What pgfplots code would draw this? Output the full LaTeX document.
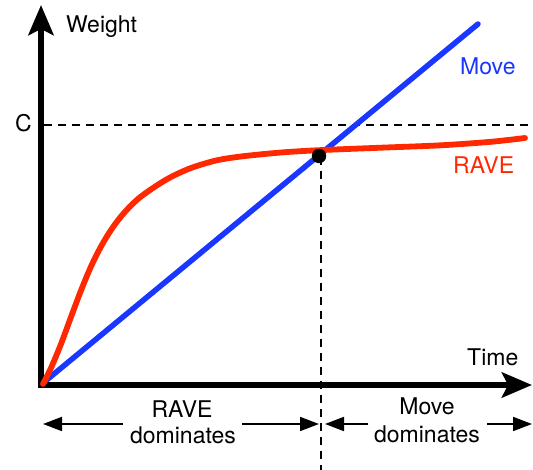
\documentclass[border=0pt]{standalone}
\usepackage{pgfplots}
\pgfplotsset{compat=1.18}
\usepackage{fontspec}
\setmainfont{TeX Gyre Heros}
\usetikzlibrary{arrows.meta}
\definecolor{moveblue}{RGB}{25,55,255}
\definecolor{ravered}{RGB}{255,40,0}
\begin{document}
\begin{tikzpicture}
\fontsize{23bp}{26bp}\selectfont
\begin{axis}[
  x=1bp, y=1bp,
  xmin=-3, xmax=491, ymin=-3, ymax=380,
  axis lines=middle,
  axis line style={line width=6.5bp, -{Stealth[length=30bp,width=25bp,inset=6bp]}},
  xtick=\empty, ytick=\empty,
  clip=false,
]
% dashed guides
\addplot[black, line width=1.6bp, dash pattern=on 8bp off 6bp] coordinates {(3,260) (489,260)};
\addplot[black, line width=1.6bp, dash pattern=on 8bp off 6bp] coordinates {(280,228) (280,-85)};
% Move (linear)
\addplot[moveblue, line width=5.5bp, line cap=round] coordinates {(2,2) (437,361)};
% RAVE
\addplot[ravered, line width=5.8bp, line cap=round, smooth] coordinates {
(2,1) (10,17) (20,41) (30,68) (40,94.5) (50,118.5) (60,138.5) (70,155) (80,168.5)
(90,179.5) (100,188.5) (115,199) (130,208) (150,217) (175,224.5) (200,228.5)
(240,232.5) (280,234.9) (340,237.3) (400,239.7) (450,243.2) (484,247)};
% intersection dot
\addplot[only marks, mark=*, mark size=7bp, black] coordinates {(278,229)};
% labels
\node[anchor=base west, inner sep=0] at (axis cs:25,352) {Weight};
\node[anchor=base west, inner sep=0] at (axis cs:-26,253) {C};
\node[anchor=base west, inner sep=0, text=moveblue] at (axis cs:419,310) {Move};
\node[anchor=base west, inner sep=0, text=ravered] at (axis cs:412,211) {RAVE};
\node[anchor=base west, inner sep=0] at (axis cs:426,19) {Time};
\node[anchor=base, inner sep=0] at (axis cs:141,-33) {RAVE};
\node[anchor=base, inner sep=0] at (axis cs:142,-59) {dominates};
\node[anchor=base, inner sep=0] at (axis cs:386,-30) {Move};
\node[anchor=base, inner sep=0] at (axis cs:386,-58) {dominates};
% range arrows
\draw[line width=1.8bp, -{Triangle[length=19bp,width=14bp]}] (axis cs:82,-39) -- (axis cs:2,-39);
\draw[line width=1.8bp, -{Triangle[length=19bp,width=14bp]}] (axis cs:201,-39) -- (axis cs:278,-39);
\draw[line width=1.8bp, -{Triangle[length=19bp,width=14bp]}] (axis cs:327,-39) -- (axis cs:284,-39);
\draw[line width=1.8bp, -{Triangle[length=19bp,width=14bp]}] (axis cs:446,-39) -- (axis cs:491,-39);
\coordinate (bl) at (axis cs:-41,-85);
\coordinate (tr) at (axis cs:492,385);
\end{axis}
\pgfresetboundingbox
\useasboundingbox (bl) rectangle (tr);
\end{tikzpicture}
\end{document}
